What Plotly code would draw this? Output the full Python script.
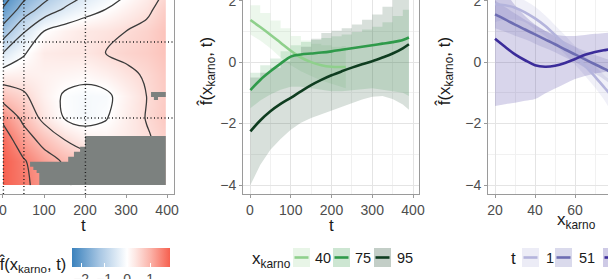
import plotly.graph_objects as go

W, H = 608, 279
def P(px): return px / W
def Q(py): return 1 - py / H

FONT = "Liberation Sans, Arial, sans-serif"

# ---------------- heatmap surface f(x_karno, t) ----------------
t_grid = [0, 50, 100, 150, 200, 250, 300, 350, 397]
karno_grid = [9, 20, 30, 40, 50, 60, 70, 80, 90, 100]
fhat = [
    [1.85, 1.60, 1.30, 1.05, 0.90, 0.80, 0.75, 0.75, 0.80],
    [1.88, 1.55, 1.20, 0.95, 0.76, 0.65, 0.60, 0.62, 0.70],
    [1.75, 1.22, 0.85, 0.50, 0.25, 0.20, 0.30, 0.45, 0.65],
    [1.40, 0.89, 0.37, -0.02, -0.15, -0.03, 0.25, 0.52, 0.75],
    [0.82, 0.58, 0.22, -0.05, -0.12, -0.10, 0.20, 0.50, 0.72],
    [0.22, 0.25, 0.20, 0.15, 0.10, 0.22, 0.40, 0.55, 0.75],
    [-0.50, -0.05, 0.30, 0.35, 0.36, 0.50, 0.60, 0.68, 0.82],
    [-1.30, -0.55, 0.00, 0.20, 0.34, 0.40, 0.50, 0.62, 0.82],
    [-1.95, -1.30, -0.80, -0.45, -0.20, 0.00, 0.20, 0.40, 0.70],
    [-2.45, -1.85, -1.45, -1.00, -0.65, -0.35, -0.10, 0.20, 0.50],
]
z_min, z_max = -2.4, 1.87
# regions without data (grey)
na_t = [397, 397, 200, 200, 188, 188, 173, 173, 159, 159, 66, 66, 74, 74, 82, 82, 88.5, 88.5, 397, None,
        361, 397, 397, 378, 378, 368, 368, 361, 361]
na_k = [9.1, 31.7, 31.7, 26.8, 26.8, 24.5, 24.5, 22.2, 22.2, 19.9, 19.9, 17.6, 17.6, 16.0, 16.0, 14.7, 14.7, 9.1, 9.1, None,
        52.0, 52.0, 49.7, 49.7, 48.3, 48.3, 49.7, 49.7, 52.0]
slice_t = [1, 51, 201]
slice_karno = [40, 75, 95]

# ---------------- middle panel: f over t for fixed x_karno ----------------
t_line = [1, 25, 50, 75, 100, 125, 150, 175, 200, 225, 250, 275, 300, 325, 350, 375, 390]
t_line40 = [1, 25, 50, 75, 100, 125, 150, 175, 200, 225, 235]
f40 = [1.37, 1.14, 0.89, 0.63, 0.37, 0.15, 0.00, -0.10, -0.15, -0.16, -0.16]
lo40 = [0.90, 0.70, 0.45, 0.15, -0.10, -0.30, -0.45, -0.60, -0.70, -0.80, -0.85]
hi40 = [1.85, 1.60, 1.35, 1.10, 0.85, 0.70, 0.60, 0.55, 0.50, 0.52, 0.55]
f75 = [-0.91, -0.58, -0.30, -0.05, 0.18, 0.25, 0.28, 0.31, 0.35, 0.40, 0.45, 0.50, 0.55, 0.60, 0.65, 0.72, 0.80]
lo75 = [-1.50, -1.25, -1.05, -0.90, -0.80, -0.80, -0.85, -0.90, -0.95, -0.95, -0.92, -0.88, -0.85, -0.90, -0.95, -1.00, -1.10]
hi75 = [-0.35, -0.10, 0.12, 0.35, 0.55, 0.65, 0.72, 0.78, 0.84, 0.90, 0.98, 1.06, 1.15, 1.30, 1.50, 1.70, 1.90]
f95 = [-2.25, -1.90, -1.60, -1.36, -1.16, -0.95, -0.75, -0.58, -0.43, -0.30, -0.18, -0.07, 0.03, 0.15, 0.28, 0.45, 0.58]
lo95 = [-4.00, -3.35, -2.85, -2.50, -2.20, -1.97, -1.82, -1.70, -1.56, -1.45, -1.33, -1.22, -1.13, -1.10, -1.20, -1.38, -1.55]
hi95 = [-0.50, -0.35, -0.18, 0.02, 0.25, 0.50, 0.76, 0.95, 1.02, 1.10, 1.22, 1.38, 1.55, 1.80, 2.10, 2.50, 2.80]

# ---------------- right panel: f over x_karno for fixed t ----------------
x_r = [20, 25, 30, 35, 40, 45, 50, 55, 60, 65, 70, 75, 77]
g1 = [1.88, 1.85, 1.77, 1.62, 1.42, 1.18, 0.88, 0.56, 0.22, -0.12, -0.47, -0.85, -1.00]
lo1 = [1.30, 1.38, 1.38, 1.30, 1.07, 0.85, 0.57, 0.26, -0.08, -0.44, -0.83, -1.27, -1.50]
hi1 = [2.50, 2.35, 2.20, 2.00, 1.80, 1.52, 1.20, 0.87, 0.52, 0.20, -0.12, -0.45, -0.55]
g51 = [1.55, 1.39, 1.22, 1.06, 0.90, 0.74, 0.58, 0.41, 0.25, 0.09, -0.07, -0.23, -0.30]
lo51 = [1.10, 0.99, 0.86, 0.74, 0.60, 0.46, 0.32, 0.16, 0.00, -0.18, -0.37, -0.58, -0.68]
hi51 = [2.00, 1.79, 1.58, 1.38, 1.20, 1.02, 0.84, 0.66, 0.50, 0.36, 0.23, 0.12, 0.08]
g201 = [0.76, 0.50, 0.25, 0.06, -0.10, -0.15, -0.12, -0.03, 0.10, 0.24, 0.33, 0.39, 0.41]
lo201 = [-1.43, -1.37, -1.32, -1.26, -1.20, -1.02, -0.86, -0.70, -0.55, -0.45, -0.37, -0.32, -0.30]
hi201 = [2.80, 2.30, 1.85, 1.50, 1.22, 1.02, 0.90, 0.85, 0.85, 0.88, 0.92, 0.95, 0.96]

green_line = {"40": "#8fd08c", "75": "#2f9a4a", "95": "#0f3d20"}
green_fill = {"40": "rgba(143,208,140,0.17)", "75": "rgba(47,154,74,0.16)", "95": "rgba(15,61,32,0.16)"}
green_key = {"40": "#e8f5e7", "75": "#cde6d2", "95": "#c3cec7"}
purple_line = {"1": "#b4b4dc", "51": "#6d6db2", "201": "#3b2c9a"}
purple_fill = {"1": "rgba(180,180,220,0.2)", "51": "rgba(109,109,178,0.18)", "201": "rgba(59,44,154,0.2)"}
purple_key = {"1": "#ececf6", "51": "#dadaec", "201": "#cecae6"}

fig = go.Figure()

# ---- heatmap with contours ----
zero = -z_min / (z_max - z_min)
cscale = [[0.0, "#3b82bd"], [zero * 0.5, "#a7c6e3"], [zero * 0.85, "#e4eef7"], [zero, "#ffffff"],
          [zero + (1 - zero) * 0.2, "#fde6e2"], [zero + (1 - zero) * 0.55, "#fbb2a8"], [1.0, "#f6604f"]]
fig.add_trace(go.Contour(
    x=t_grid, y=karno_grid, z=fhat, zmin=z_min, zmax=z_max, colorscale=cscale, showscale=False,
    contours=dict(start=-2, end=1.5, size=0.5, coloring="heatmap", showlines=True),
    line=dict(color="#3c3c3c", width=1.3, smoothing=1.0),
    hoverinfo="skip", xaxis="x", yaxis="y",
))
# colour bar for the surface (continuous gradient)
fig.add_trace(go.Scatter(
    x=[None, None], y=[None, None], mode="markers", hoverinfo="skip", showlegend=False, xaxis="x", yaxis="y",
    marker=dict(color=[z_min, z_max], cmin=z_min, cmax=z_max, colorscale=cscale, showscale=True,
                colorbar=dict(orientation="h", x=P(121), xanchor="center", y=Q(248), yanchor="top",
                              len=98 / W, lenmode="fraction", thickness=19, thicknessmode="pixels",
                              xpad=0, ypad=0, outlinewidth=0, tickvals=[-2, -1, 0, 1],
                              ticks="inside", ticklen=4, tickcolor="white",
                              tickfont=dict(size=14, color="#4d4d4d", family=FONT))),
))
fig.add_trace(go.Scatter(x=na_t, y=na_k, mode="lines", fill="toself", fillcolor="#7c817f",
                         line=dict(width=0, color="#7c817f"), hoverinfo="skip", showlegend=False,
                         xaxis="x", yaxis="y"))
shapes = []
DOT = "1px,2.5px"
for tv in slice_t:
    shapes.append(dict(type="line", xref="x", yref="y domain", x0=tv, x1=tv, y0=0, y1=1,
                       line=dict(color="#1e1e1e", width=1.4, dash=DOT)))
for kv in slice_karno:
    shapes.append(dict(type="line", xref="x domain", yref="y", x0=0, x1=1, y0=kv, y1=kv,
                       line=dict(color="#1e1e1e", width=1.4, dash=DOT)))

# ---- middle panel ----
def band(x, lo, hi, fillc, xa, ya, lo_shape, hi_shape):
    fig.add_trace(go.Scatter(x=x, y=lo, mode="lines", line=dict(width=0, shape=lo_shape),
                             hoverinfo="skip", showlegend=False, xaxis=xa, yaxis=ya))
    fig.add_trace(go.Scatter(x=x, y=hi, mode="lines", line=dict(width=0, shape=hi_shape), fill="tonexty",
                             fillcolor=fillc, hoverinfo="skip", showlegend=False, xaxis=xa, yaxis=ya))

band(t_line40, lo40, hi40, green_fill["40"], "x2", "y2", "linear", "hv")
band(t_line, lo75, hi75, green_fill["75"], "x2", "y2", "linear", "hv")
band(t_line, lo95, hi95, green_fill["95"], "x2", "y2", "linear", "hv")
for xs, ys, key in [(t_line40, f40, "40"), (t_line, f75, "75"), (t_line, f95, "95")]:
    fig.add_trace(go.Scatter(x=xs, y=ys, mode="lines", line=dict(color=green_line[key], width=2.6, shape="spline"),
                             hoverinfo="skip", showlegend=False, xaxis="x2", yaxis="y2"))

# ---- right panel ----
band(x_r, lo1, hi1, purple_fill["1"], "x3", "y3", "spline", "spline")
band(x_r, lo51, hi51, purple_fill["51"], "x3", "y3", "spline", "spline")
band(x_r, lo201, hi201, purple_fill["201"], "x3", "y3", "spline", "spline")
for ys, key in [(g1, "1"), (g51, "51"), (g201, "201")]:
    fig.add_trace(go.Scatter(x=x_r, y=ys, mode="lines", line=dict(color=purple_line[key], width=2.6, shape="spline"),
                             hoverinfo="skip", showlegend=False, xaxis="x3", yaxis="y3"))

# ---- axes ----
tickfont = dict(size=14, color="#4d4d4d", family=FONT)
common_x = dict(showline=True, linecolor="#9a9a9a", linewidth=1, ticks="outside", ticklen=3,
                tickcolor="#9a9a9a", tickfont=tickfont, zeroline=False, ticklabeloverflow="allow")
def grid(minor_dtick):
    return dict(showgrid=True, gridcolor="#e4e4e4", gridwidth=0.8,
                minor=dict(showgrid=True, gridcolor="#f1f1f1", gridwidth=0.6, dtick=minor_dtick))
ydom = [Q(194), 1]
fig.update_layout(
    xaxis=dict(domain=[0, P(174)], range=[-7.3, 417], tickvals=[0, 100, 200, 300, 400], showgrid=False,
               anchor="y", **common_x),
    yaxis=dict(domain=ydom, range=[5.0, 94.35], showgrid=False, showticklabels=False, ticks="",
               showline=True, linecolor="#9a9a9a", side="right", zeroline=False, anchor="x"),
    xaxis2=dict(domain=[P(243), P(419)], range=[-17.2, 414.7], tickvals=[0, 100, 200, 300, 400],
                anchor="y2", **common_x, **grid(50)),
    yaxis2=dict(domain=ydom, range=[-4.29, 2.02], tickvals=[-4, -2, 0, 2], anchor="x2", mirror=True,
                **common_x, **grid(1)),
    xaxis3=dict(domain=[P(488), 1], range=[16.5, 76.5], tickvals=[20, 40, 60, 80], anchor="y3",
                **common_x, **grid(10)),
    yaxis3=dict(domain=ydom, range=[-4.29, 2.02], tickvals=[-4, -2, 0, 2], anchor="x3",
                **common_x, **grid(1)),
)

# ---- text and legends ----
ann = []
def label(s, px, py, size=17, xanchor="center", angle=0, color="#1a1a1a"):
    ann.append(dict(text=s, x=P(px), y=Q(py), xref="paper", yref="paper", xanchor=xanchor, yanchor="middle",
                    showarrow=False, textangle=angle, font=dict(size=size, color=color, family=FONT)))

ftitle = "f\u0302(x<sub>karno</sub>, t)"
label("t", 83, 225)
label("t", 331, 225)
label("x<sub>karno</sub>", 576, 221)
label(ftitle, 207, 72, angle=-90)
label(ftitle, 445, 72, angle=-90)
label(ftitle, 67.5, 264, size=16.5, xanchor="right")

def key(x0, x1, fillc, linec):
    shapes.append(dict(type="rect", xref="paper", yref="paper", x0=P(x0), x1=P(x1), y0=Q(267), y1=Q(248),
                       fillcolor=fillc, line=dict(width=0), layer="above"))
    shapes.append(dict(type="line", xref="paper", yref="paper", x0=P(x0 + 1.5), x1=P(x1 - 1.5), y0=Q(257.5), y1=Q(257.5),
                       line=dict(color=linec, width=2.6), layer="above"))

label("x<sub>karno</sub>", 250, 260, xanchor="left")
for (k0, k1, lx, lab) in [(293, 310, 313, "40"), (333, 350, 353, "75"), (374, 391, 395, "95")]:
    key(k0, k1, green_key[lab], green_line[lab])
    label(lab, lx, 258, size=14.5, xanchor="left")

label("t", 513.5, 258)
for (k0, k1, lx, lab) in [(522, 539, 544, "1"), (555, 572, 577, "51"), (603, 620, None, "201")]:
    key(k0, k1, purple_key[lab], purple_line[lab])
    if lx is not None:
        label(lab, lx, 258, size=14.5, xanchor="left")

fig.update_layout(width=W, height=H, margin=dict(l=0, r=0, t=0, b=0, autoexpand=False), paper_bgcolor="white",
                  plot_bgcolor="white", showlegend=False, annotations=ann, shapes=shapes,
                  font=dict(family=FONT))
fig.write_html("out.html")
